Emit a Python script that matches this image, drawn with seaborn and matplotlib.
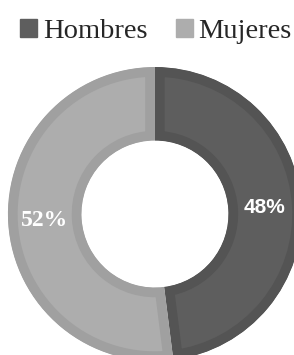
import matplotlib
matplotlib.use("Agg")
import matplotlib.pyplot as plt
import seaborn as sns

sns.set_theme(style="white")

labels = ["Hombres", "Mujeres"]
values = [48, 52]
fills = ["#5e5e5e", "#adadad"]
edges = ["#545454", "#a0a0a0"]

fig = plt.figure(figsize=(2.94, 3.55), dpi=100)
ax = fig.add_axes([0, 0, 1, 1])

wedges, texts, autotexts = ax.pie(
    values, colors=fills, startangle=90, counterclock=False,
    autopct="%d%%", pctdistance=0.75,
    wedgeprops=dict(width=0.5, linewidth=14, antialiased=True))

# inset border: stroke clipped to the wedge shape
for w, ec in zip(wedges, edges):
    w.set_edgecolor(ec)
    w.set_clip_on(True)
    w.set_clip_path(w)

autotexts[0].set_fontfamily("Liberation Sans")
autotexts[0].set_fontsize(15)
autotexts[1].set_fontfamily("Liberation Serif")
autotexts[1].set_fontsize(17)
for t in autotexts:
    t.set_color("white")
    t.set_fontweight("bold")

ax.set_xlim(-1.054, 0.946)
ax.set_ylim(-0.959, 1.456)
ax.set_aspect("auto")
ax.axis("off")

handles = [plt.Rectangle((0, 0), 1, 1, color=c) for c in fills]
ax.legend(handles, labels, loc="upper center", bbox_to_anchor=(0.53, 1.02),
          ncol=2, frameon=False, handlelength=0.6, handleheight=0.6,
          handletextpad=0.2, columnspacing=1.0,
          prop={"family": "Liberation Serif", "size": 20.5})

fig.savefig("out.png", dpi=100)
